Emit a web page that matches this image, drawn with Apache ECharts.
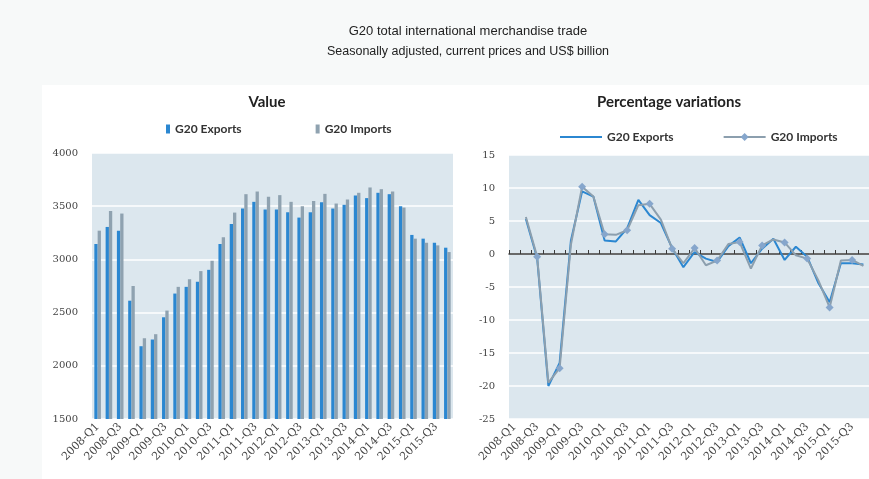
<!DOCTYPE html>
<html>
<head>
<meta charset="utf-8">
<script src="https://cdn.jsdelivr.net/npm/echarts@6/dist/echarts.min.js"></script>
<style>
  html, body { margin: 0; padding: 0; background: #f7f9f9; }
  .com-container { position: relative; width: 869px; height: 479px; }
  .panel { position: absolute; left: 42px; top: 85px; width: 827px; height: 394px; background: #fff; }
  .com-chart { position: absolute; left: 0; top: 0; width: 869px; height: 479px; }
</style>
</head>
<body>
<div class="com-container">
  <div class="panel"></div>
  <div class="com-chart" id="main"></div>
</div>
<script>
// quarters shown on both charts
const quarters = [
  '2008-Q1', '2008-Q2', '2008-Q3', '2008-Q4',
  '2009-Q1', '2009-Q2', '2009-Q3', '2009-Q4',
  '2010-Q1', '2010-Q2', '2010-Q3', '2010-Q4',
  '2011-Q1', '2011-Q2', '2011-Q3', '2011-Q4',
  '2012-Q1', '2012-Q2', '2012-Q3', '2012-Q4',
  '2013-Q1', '2013-Q2', '2013-Q3', '2013-Q4',
  '2014-Q1', '2014-Q2', '2014-Q3', '2014-Q4',
  '2015-Q1', '2015-Q2', '2015-Q3', '2015-Q4'
]

// US$ billion
const exportsValue = [
  3145, 3305, 3270, 2612, 2184, 2247, 2456, 2679,
  2742, 2789, 2902, 3145, 3333, 3478, 3541, 3469,
  3469, 3443, 3393, 3443, 3538, 3478, 3513, 3601,
  3576, 3626, 3613, 3500, 3230, 3195, 3157, 3110
]
const importsValue = [
  3270, 3456, 3431, 2750, 2259, 2297, 2519, 2742,
  2814, 2890, 2987, 3208, 3440, 3613, 3638, 3588,
  3604, 3541, 3500, 3550, 3616, 3525, 3563, 3626,
  3676, 3660, 3638, 3487, 3195, 3157, 3132, 3069
]

// quarter on quarter, %
const exportsPct = [
  null, 5.3, -0.6, -20.0, -16.5, 2.0, 9.5, 8.7,
  2.05, 1.9, 3.9, 8.2, 5.9, 4.7, 0.9, -2.0,
  0.3, -0.7, -1.2, 1.2, 2.5, -1.4, 0.8, 2.3,
  -0.9, 1.1, -0.4, -4.4, -7.3, -1.4, -1.4, -1.6
]
const importsPct = [
  null, 5.6, -0.4, -19.5, -17.3, 1.4, 10.2, 8.7,
  3.0, 2.9, 3.6, 7.4, 7.6, 5.2, 0.8, -1.4,
  0.9, -1.7, -1.0, 1.5, 1.8, -2.2, 1.3, 2.2,
  1.75, -0.2, -0.7, -4.0, -8.1, -1.0, -0.9, -1.8
]

const valueTicks = { min: 1500, max: 4000, interval: 500 }
const pctTicks = { min: -25, max: 15, interval: 5 }

const blue = '#2b87d1'
const grey = '#8fa2b0'
const labelFont = 'DejaVu Serif'
const headFont = 'Lato'

const chartInstance = echarts.init(document.getElementById('main'))

const splitLine = { show: true, lineStyle: { color: '#fff', width: 1.5 } }
const yLabel = { fontFamily: labelFont, fontSize: 10, color: '#444', margin: 14, formatter: (v) => String(v) }
const xLabel = { interval: 1, rotate: 45, fontFamily: labelFont, fontSize: 11, color: '#444', margin: 6 }
// flat line icon for the exports legend (the move-tos keep the box 10px tall)
const lineIcon = 'path://M0,0 M0,4L42,4L42,6L0,6Z M42,10'

const option = {
  animation: false,
  title: [
    {
      text: 'G20 total international merchandise trade',
      subtext: 'Seasonally adjusted, current prices and US$ billion',
      left: 463,
      top: 20,
      textAlign: 'center',
      itemGap: 7,
      textStyle: { fontFamily: 'Liberation Sans', fontSize: 13, fontWeight: 'normal', color: '#222' },
      subtextStyle: { fontFamily: 'Liberation Sans', fontSize: 12.5, color: '#222' }
    },
    {
      text: 'Value',
      left: 262,
      top: 90,
      textAlign: 'center',
      textStyle: { fontFamily: headFont, fontSize: 15, fontWeight: 'bold', color: '#222' }
    },
    {
      text: 'Percentage variations',
      left: 664,
      top: 90,
      textAlign: 'center',
      textStyle: { fontFamily: headFont, fontSize: 15, fontWeight: 'bold', color: '#222' }
    }
  ],
  legend: [
    {
      data: ['Value: G20 Exports', 'Value: G20 Imports'],
      formatter: (name) => name.replace('Value: ', ''),
      left: 161,
      top: 118,
      icon: 'rect',
      itemWidth: 4,
      itemHeight: 9,
      itemGap: 74,
      textStyle: { fontFamily: headFont, fontSize: 12, fontWeight: 'bold', color: '#333' }
    },
    {
      data: [{ name: 'Pct: G20 Exports', icon: lineIcon }, 'Pct: G20 Imports'],
      formatter: (name) => name.replace('Pct: ', ''),
      left: 555,
      top: 126,
      itemWidth: 42,
      itemHeight: 10,
      itemGap: 49,
      textStyle: { fontFamily: headFont, fontSize: 12, fontWeight: 'bold', color: '#333' }
    }
  ],
  grid: [
    { left: 92, top: 153, width: 361, height: 266, show: true, backgroundColor: '#dce7ee', borderWidth: 0 },
    { left: 509, top: 155, width: 363, height: 264, show: true, backgroundColor: '#dce7ee', borderWidth: 0 }
  ],
  xAxis: [
    {
      gridIndex: 0, type: 'category', data: quarters,
      axisLine: { show: false, onZero: false }, axisTick: { show: false }, axisLabel: xLabel
    },
    {
      gridIndex: 1, type: 'category', data: quarters,
      axisLine: { show: false, onZero: false }, axisTick: { show: false }, axisLabel: xLabel
    },
    {
      // zero line with the small upward ticks
      gridIndex: 1, type: 'category', data: quarters, position: 'top',
      axisLine: { show: true, onZero: true, lineStyle: { color: '#3a3a3a', width: 1.5 } },
      axisTick: { show: true, interval: 0, length: 4, lineStyle: { color: '#3a3a3a' } },
      axisLabel: { show: false }
    }
  ],
  yAxis: [
    {
      gridIndex: 0, type: 'value', ...valueTicks,
      axisLine: { show: false }, axisTick: { show: false },
      splitLine: splitLine, axisLabel: yLabel
    },
    {
      gridIndex: 1, type: 'value', ...pctTicks,
      axisLine: { show: false }, axisTick: { show: false },
      splitLine: splitLine, axisLabel: yLabel
    }
  ],
  series: [
    {
      name: 'Value: G20 Exports', type: 'bar', xAxisIndex: 0, yAxisIndex: 0,
      data: exportsValue, barWidth: 3.3, barGap: '0%', itemStyle: { color: blue }
    },
    {
      name: 'Value: G20 Imports', type: 'bar', xAxisIndex: 0, yAxisIndex: 0,
      data: importsValue, barWidth: 3.3, barGap: '0%', itemStyle: { color: grey }
    },
    {
      name: 'Pct: G20 Exports', type: 'line', xAxisIndex: 1, yAxisIndex: 1,
      data: exportsPct, symbol: 'none',
      itemStyle: { color: blue }, lineStyle: { color: blue, width: 2 }
    },
    {
      name: 'Pct: G20 Imports', type: 'line', xAxisIndex: 1, yAxisIndex: 1,
      data: importsPct, symbol: 'diamond', symbolSize: 8,
      itemStyle: { color: '#86a6cc' }, lineStyle: { color: '#8c9fae', width: 2 }
    }
  ]
}

chartInstance.setOption(option)
</script>
</body>
</html>
